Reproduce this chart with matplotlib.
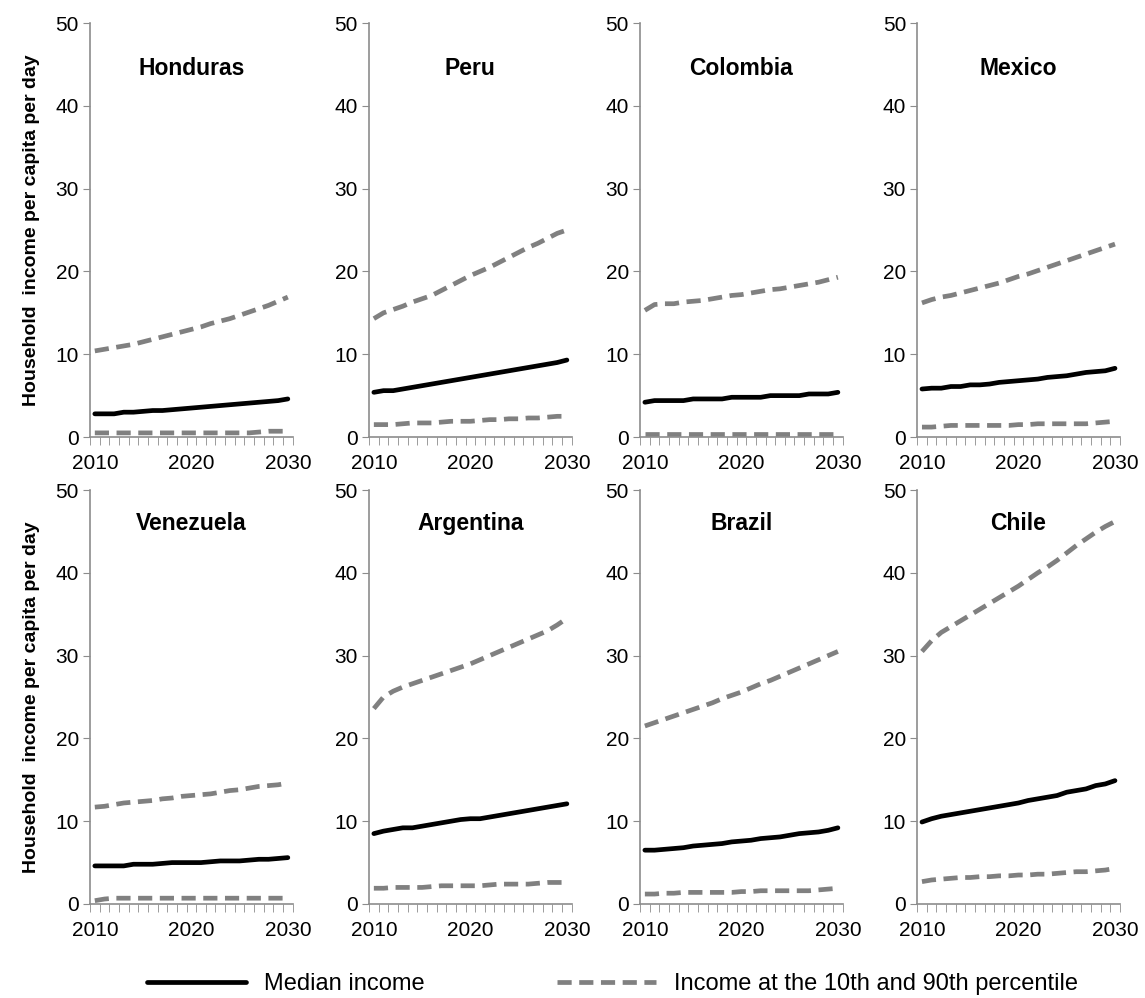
import numpy as np
import matplotlib.pyplot as plt
from matplotlib.lines import Line2D

plt.rcParams['font.family'] = ['Liberation Sans', 'DejaVu Sans']

years = np.arange(2010, 2031)

countries = ["Honduras", "Peru", "Colombia", "Mexico",
             "Venezuela", "Argentina", "Brazil", "Chile"]

# median household income per capita per day
median = {
    "Honduras": [2.8, 2.8, 2.8, 3.0, 3.0, 3.1, 3.2, 3.2, 3.3, 3.4, 3.5,
                 3.6, 3.7, 3.8, 3.9, 4.0, 4.1, 4.2, 4.3, 4.4, 4.6],
    "Peru": [5.4, 5.6, 5.6, 5.8, 6.0, 6.2, 6.4, 6.6, 6.8, 7.0, 7.2,
             7.4, 7.6, 7.8, 8.0, 8.2, 8.4, 8.6, 8.8, 9.0, 9.3],
    "Colombia": [4.2, 4.4, 4.4, 4.4, 4.4, 4.6, 4.6, 4.6, 4.6, 4.8, 4.8,
                 4.8, 4.8, 5.0, 5.0, 5.0, 5.0, 5.2, 5.2, 5.2, 5.4],
    "Mexico": [5.8, 5.9, 5.9, 6.1, 6.1, 6.3, 6.3, 6.4, 6.6, 6.7, 6.8,
               6.9, 7.0, 7.2, 7.3, 7.4, 7.6, 7.8, 7.9, 8.0, 8.3],
    "Venezuela": [4.6, 4.6, 4.6, 4.6, 4.8, 4.8, 4.8, 4.9, 5.0, 5.0, 5.0,
                  5.0, 5.1, 5.2, 5.2, 5.2, 5.3, 5.4, 5.4, 5.5, 5.6],
    "Argentina": [8.5, 8.8, 9.0, 9.2, 9.2, 9.4, 9.6, 9.8, 10.0, 10.2, 10.3,
                  10.3, 10.5, 10.7, 10.9, 11.1, 11.3, 11.5, 11.7, 11.9, 12.1],
    "Brazil": [6.5, 6.5, 6.6, 6.7, 6.8, 7.0, 7.1, 7.2, 7.3, 7.5, 7.6,
               7.7, 7.9, 8.0, 8.1, 8.3, 8.5, 8.6, 8.7, 8.9, 9.2],
    "Chile": [9.9, 10.3, 10.6, 10.8, 11.0, 11.2, 11.4, 11.6, 11.8, 12.0, 12.2,
              12.5, 12.7, 12.9, 13.1, 13.5, 13.7, 13.9, 14.3, 14.5, 14.9],
}

# 90th percentile
p90 = {
    "Honduras": [10.4, 10.6, 10.8, 11.0, 11.2, 11.5, 11.8, 12.1, 12.4, 12.7, 13.0,
                 13.3, 13.7, 14.0, 14.3, 14.7, 15.1, 15.5, 15.9, 16.4, 16.9],
    "Peru": [14.3, 15.0, 15.4, 15.8, 16.3, 16.7, 17.1, 17.7, 18.3, 18.9, 19.5,
             20.0, 20.5, 21.1, 21.7, 22.3, 22.9, 23.4, 24.0, 24.6, 25.0],
    "Colombia": [15.3, 16.0, 16.1, 16.1, 16.3, 16.4, 16.5, 16.7, 16.9, 17.1, 17.2,
                 17.4, 17.6, 17.8, 17.9, 18.1, 18.3, 18.5, 18.7, 19.0, 19.3],
    "Mexico": [16.2, 16.6, 16.9, 17.1, 17.4, 17.7, 18.0, 18.3, 18.6, 19.0, 19.4,
               19.7, 20.1, 20.5, 20.9, 21.3, 21.7, 22.1, 22.5, 22.9, 23.3],
    "Venezuela": [11.7, 11.8, 12.0, 12.2, 12.3, 12.4, 12.5, 12.7, 12.8, 13.0, 13.1,
                  13.2, 13.3, 13.5, 13.7, 13.8, 14.0, 14.2, 14.3, 14.4, 14.6],
    "Argentina": [23.6, 25.0, 25.7, 26.2, 26.6, 27.0, 27.4, 27.8, 28.2, 28.6, 29.0,
                  29.5, 30.0, 30.5, 31.0, 31.5, 32.0, 32.5, 33.0, 33.7, 34.5],
    "Brazil": [21.5, 21.9, 22.3, 22.7, 23.1, 23.5, 23.9, 24.3, 24.8, 25.2, 25.6,
               26.1, 26.6, 27.0, 27.5, 28.0, 28.5, 29.0, 29.5, 30.0, 30.5],
    "Chile": [30.5, 31.8, 32.8, 33.5, 34.2, 34.9, 35.6, 36.3, 37.0, 37.7, 38.4,
              39.2, 40.0, 40.7, 41.5, 42.4, 43.3, 44.1, 44.9, 45.6, 46.2],
}

# 10th percentile
p10 = {
    "Honduras": [0.5, 0.5, 0.5, 0.5, 0.5, 0.5, 0.5, 0.5, 0.5, 0.5, 0.5,
                 0.5, 0.5, 0.5, 0.5, 0.5, 0.5, 0.6, 0.7, 0.7, 0.7],
    "Peru": [1.5, 1.5, 1.5, 1.6, 1.7, 1.7, 1.7, 1.8, 1.9, 1.9, 1.9,
             2.0, 2.1, 2.1, 2.2, 2.2, 2.3, 2.3, 2.4, 2.5, 2.5],
    "Colombia": [0.4, 0.4, 0.4, 0.4, 0.4, 0.4, 0.4, 0.4, 0.4, 0.4, 0.4,
                 0.4, 0.4, 0.4, 0.4, 0.4, 0.4, 0.4, 0.4, 0.4, 0.4],
    "Mexico": [1.2, 1.2, 1.3, 1.4, 1.4, 1.4, 1.4, 1.4, 1.4, 1.4, 1.5,
               1.5, 1.6, 1.6, 1.6, 1.6, 1.6, 1.6, 1.7, 1.8, 1.9],
    "Venezuela": [0.4, 0.6, 0.7, 0.7, 0.7, 0.7, 0.7, 0.7, 0.7, 0.7, 0.7,
                  0.7, 0.7, 0.7, 0.7, 0.7, 0.7, 0.7, 0.7, 0.7, 0.7],
    "Argentina": [1.9, 1.9, 2.0, 2.0, 2.0, 2.0, 2.1, 2.2, 2.2, 2.2, 2.2,
                  2.2, 2.3, 2.4, 2.4, 2.4, 2.4, 2.5, 2.6, 2.6, 2.6],
    "Brazil": [1.2, 1.2, 1.3, 1.3, 1.4, 1.4, 1.4, 1.4, 1.4, 1.4, 1.5,
               1.5, 1.6, 1.6, 1.6, 1.6, 1.6, 1.6, 1.7, 1.8, 1.9],
    "Chile": [2.7, 2.9, 3.0, 3.1, 3.2, 3.2, 3.3, 3.3, 3.4, 3.4, 3.5,
              3.5, 3.6, 3.6, 3.7, 3.8, 3.9, 3.9, 4.0, 4.1, 4.3],
}

y_ticks = [0, 10, 20, 30, 40, 50]
x_labels = [2010, 2020, 2030]

AXIS_GREY = "#8c8c8c"
DASH_GREY = "#808080"
MEDIAN_STYLE = dict(color="black", lw=3.4, solid_capstyle="round")
PCT_STYLE = dict(color=DASH_GREY, lw=3.4, dashes=(3.0, 1.6))


def style_axes(ax, show_ylabel):
    ax.set_xlim(2009.5, 2030.5)
    ax.set_ylim(0, 50)
    ax.set_yticks(y_ticks)
    ax.set_xticks(x_labels)
    ax.set_xticks(np.arange(2009.5, 2031.0, 1.0), minor=True)
    ax.tick_params(axis="x", which="major", length=0, pad=12, labelsize=15)
    ax.tick_params(axis="x", which="minor", length=6, color=AXIS_GREY,
                   direction="out")
    ax.tick_params(axis="y", length=5, color=AXIS_GREY, labelsize=15, pad=3)
    for side in ("top", "right"):
        ax.spines[side].set_visible(False)
    for side in ("left", "bottom"):
        ax.spines[side].set_color(AXIS_GREY)
        ax.spines[side].set_linewidth(1.2)
    if show_ylabel:
        ax.set_ylabel("Household  income per capita per day",
                      fontsize=14, fontweight="bold", labelpad=11)


fig = plt.figure(figsize=(11.45, 9.98), dpi=100)

lefts = [0.0786, 0.3223, 0.559, 0.801]
bottoms = [0.5621, 0.0942]
width, height = 0.177, 0.4148

for i, name in enumerate(countries):
    row, col = divmod(i, 4)
    ax = fig.add_axes([lefts[col], bottoms[row], width, height])
    ax.plot(years, p90[name], **PCT_STYLE)
    ax.plot(years, p10[name], **PCT_STYLE)
    ax.plot(years, median[name], **MEDIAN_STYLE)
    ax.text(0.5, 0.89 if row == 0 else 0.92, name, transform=ax.transAxes,
            ha="center", va="center", fontsize=16.5, fontweight="bold")
    style_axes(ax, col == 0)

handles = [Line2D([], [], **MEDIAN_STYLE),
           Line2D([], [], **PCT_STYLE)]
fig.legend(handles, ["Median income",
                     "Income at the 10th and 90th percentile"],
           loc="center", bbox_to_anchor=(0.535, 0.014), ncol=2, frameon=False,
           fontsize=17, handlelength=4.2, handletextpad=0.75,
           columnspacing=5.6)

fig.savefig("out.png", dpi=100)
